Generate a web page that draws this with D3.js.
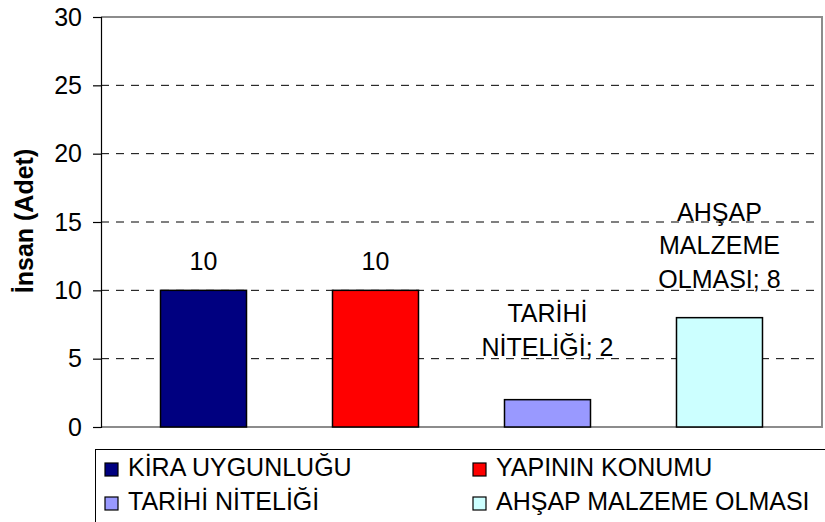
<!DOCTYPE html>
<html>
<head>
<meta charset="utf-8">
<script src="https://cdn.jsdelivr.net/npm/d3@7"></script>
<style>
  html, body { margin: 0; padding: 0; background: #fff; }
  svg { display: block; font-family: Arial, "Liberation Sans", sans-serif; }
</style>
</head>
<body>
<svg id="chart" width="825" height="522"></svg>
<script>
// Reasons people chose the building (count of people)
const categories = ["KİRA UYGUNLUĞU", "YAPININ KONUMU", "TARİHİ NİTELİĞİ", "AHŞAP MALZEME OLMASI"];
const values = [10, 10, 2, 8];
const colors = ["#000080", "#FF0000", "#9999FF", "#CCFFFF"];
// whether the data label also shows the category name
const labelShowsName = [false, false, true, true];
const yTicks = [0, 5, 10, 15, 20, 25, 30];
const yTitle = "İnsan (Adet)";

const svg = d3.select("#chart");

const plot = { left: 101, right: 822, top: 17, bottom: 427 };

const x = d3.scaleBand()
  .domain(categories)
  .range([plot.left, plot.right])
  .paddingInner(0.5)
  .paddingOuter(0.346);

const y = d3.scaleLinear()
  .domain([0, 30])
  .range([plot.bottom, plot.top]);

// dashed gridlines
svg.append("g")
  .selectAll("line")
  .data(yTicks.filter(t => t > 0 && t < 30))
  .join("line")
  .attr("x1", plot.left)
  .attr("x2", plot.right)
  .attr("y1", d => y(d))
  .attr("y2", d => y(d))
  .attr("stroke", "#000")
  .attr("stroke-width", 1)
  .attr("stroke-dasharray", "8,7");

// plot frame (top, right, bottom)
svg.append("path")
  .attr("d", `M${plot.left},${plot.top}H${plot.right}V${plot.bottom}H${plot.left}`)
  .attr("fill", "none")
  .attr("stroke", "#8c8c8c")
  .attr("stroke-width", 2);

// bars
svg.append("g")
  .selectAll("rect")
  .data(values)
  .join("rect")
  .attr("x", (d, i) => x(categories[i]))
  .attr("width", x.bandwidth())
  .attr("y", d => y(d))
  .attr("height", d => y(0) - y(d))
  .attr("fill", (d, i) => colors[i])
  .attr("stroke", "#000")
  .attr("stroke-width", 1.5);

// y axis
const yAxis = d3.axisLeft(y)
  .tickValues(yTicks)
  .tickSize(8)
  .tickPadding(11)
  .tickFormat(d3.format("d"));

const ga = svg.append("g")
  .attr("transform", `translate(${plot.left},0)`)
  .call(yAxis);
ga.select(".domain").attr("stroke", "#000").attr("stroke-width", 1.2);
ga.selectAll(".tick line").attr("stroke", "#000").attr("stroke-width", 1.2);
ga.selectAll(".tick text")
  .attr("font-size", 25)
  .attr("font-family", "Arial, 'Liberation Sans', sans-serif")
  .attr("fill", "#000");

// y axis title
svg.append("text")
  .attr("transform", `translate(33,221) rotate(-90)`)
  .attr("text-anchor", "middle")
  .attr("font-size", 25)
  .attr("font-weight", "bold")
  .attr("fill", "#000")
  .text(yTitle);

// data labels
function labelLines(i) {
  const v = values[i];
  if (!labelShowsName[i]) return [String(v)];
  const words = (categories[i] + "; " + v).split(" ");
  // wrap to keep each line narrow
  const lines = [];
  let cur = "";
  words.forEach(w => {
    const test = cur ? cur + " " + w : w;
    if (cur && test.length > 11) { lines.push(cur); cur = w; }
    else cur = test;
  });
  if (cur) lines.push(cur);
  return lines;
}
const lineHeight = 33.5;
const labelGap = [20, 20, 44, 30];

const lg = svg.append("g");
values.forEach((v, i) => {
  const lines = labelLines(i);
  const cx = x(categories[i]) + x.bandwidth() / 2;
  const lastBase = y(v) - labelGap[i];
  lines.forEach((ln, k) => {
    lg.append("text")
      .attr("x", cx)
      .attr("y", lastBase - (lines.length - 1 - k) * lineHeight)
      .attr("text-anchor", "middle")
      .attr("font-size", 25)
      .attr("fill", "#000")
      .text(ln);
  });
});

// legend
const legend = svg.append("g");
legend.append("rect")
  .attr("x", 95.5)
  .attr("y", 449.5)
  .attr("width", 760)
  .attr("height", 100)
  .attr("fill", "#fff")
  .attr("stroke", "#000")
  .attr("stroke-width", 1);

const legendCols = [105, 473];
const legendRows = [463, 497];
categories.forEach((c, i) => {
  const col = i % 2, row = Math.floor(i / 2);
  const lx = legendCols[col], ly = legendRows[row];
  legend.append("rect")
    .attr("x", lx)
    .attr("y", ly)
    .attr("width", 13)
    .attr("height", 13)
    .attr("fill", colors[i])
    .attr("stroke", "#000")
    .attr("stroke-width", 1.2);
  legend.append("text")
    .attr("x", lx + 23)
    .attr("y", ly + 12.5)
    .attr("font-size", 25)
    .attr("fill", "#000")
    .text(c);
});
</script>
</body>
</html>
